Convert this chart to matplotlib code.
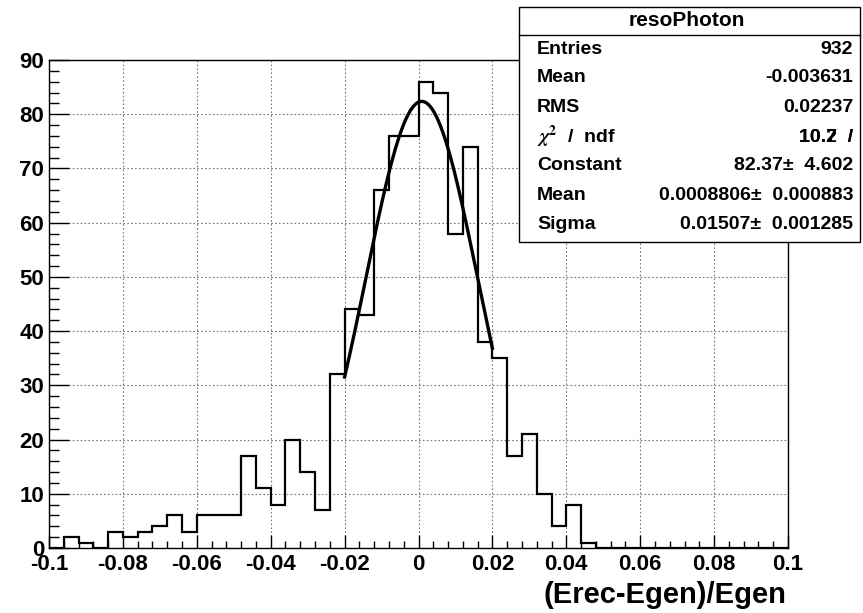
import matplotlib
matplotlib.use("Agg")
import matplotlib.pyplot as plt
import numpy as np
from matplotlib.ticker import MultipleLocator, FuncFormatter
from matplotlib.patches import Rectangle
from matplotlib.lines import Line2D

plt.rcParams['font.family'] = ['Liberation Sans', 'DejaVu Sans']
plt.rcParams['font.weight'] = 'bold'
plt.rcParams['mathtext.fontset'] = 'stix'

# histogram: 50 bins from -0.1 to 0.1
edges = np.linspace(-0.1, 0.1, 51)
counts = [0, 2, 1, 0, 3, 2, 3, 4, 6, 3,
          6, 6, 6, 17, 11, 8, 20, 14, 7, 32,
          44, 43, 66, 76, 76, 86, 84, 58, 74, 38,
          35, 17, 21, 10, 4, 8, 1, 0, 0, 0,
          0, 0, 0, 0, 0, 0, 0, 0, 0, 0]

# gaussian fit parameters from the stats box
fit_const = 82.37
fit_mean = 0.0008806
fit_sigma = 0.01507
fit_range = (-0.02, 0.02)

stats_title = "resoPhoton"
stats_labels = ["Entries", "Mean", "RMS", r"$\chi^{2}$  /  ndf", "Constant", "Mean", "Sigma"]
stats_values = ["932", "-0.003631", "0.02237", "10.2  /", "82.37\u00b1  4.602",
                "0.0008806\u00b1  0.000883", "0.01507\u00b1  0.001285"]

W, H = 863, 613
fig = plt.figure(figsize=(W / 100, H / 100), dpi=100)
ax = fig.add_axes([49 / W, 1 - 548 / H, (788 - 49) / W, (548 - 60) / H])

ax.stairs(counts, edges, color='black', linewidth=1.6)

xf = np.linspace(fit_range[0], fit_range[1], 200)
yf = fit_const * np.exp(-0.5 * ((xf - fit_mean) / fit_sigma) ** 2)
ax.plot(xf, yf, color='black', linewidth=2.4)

ax.set_xlim(-0.1, 0.1)
ax.set_ylim(0, 90)
ax.xaxis.set_major_locator(MultipleLocator(0.02))
ax.xaxis.set_minor_locator(MultipleLocator(0.004))
ax.yaxis.set_major_locator(MultipleLocator(10))
ax.yaxis.set_minor_locator(MultipleLocator(2))
ax.xaxis.set_major_formatter(FuncFormatter(lambda v, p: f"{round(v, 3) + 0:g}"))
ax.grid(True, which='major', color='#777777', linestyle=(0, (1.5, 2)), linewidth=0.8)
ax.set_axisbelow(True)

ax.tick_params(axis='both', which='both', direction='in', width=1, labelsize=16)
ax.tick_params(axis='x', which='major', length=9.5, pad=4.5)
ax.tick_params(axis='x', which='minor', length=5)
ax.tick_params(axis='y', which='major', length=14.5, pad=3.5)
ax.tick_params(axis='y', which='minor', length=7.5)
for lab in ax.get_xticklabels() + ax.get_yticklabels():
    lab.set_fontweight('bold')
for s in ax.spines.values():
    s.set_linewidth(1.0)

fig.text(786 / W, 1 - 595 / H, "(Erec-Egen)/Egen", ha='right', va='center',
         fontsize=21, fontweight='bold')

# stats box
bx0, bx1, by0, by1 = 519, 860, 7, 242
fig.add_artist(Rectangle((bx0 / W, 1 - by1 / H), (bx1 - bx0) / W, (by1 - by0) / H,
                         transform=fig.transFigure, facecolor='white',
                         edgecolor='black', linewidth=1.0, zorder=5))
fig.add_artist(Line2D([bx0 / W, bx1 / W], [1 - 35 / H, 1 - 35 / H],
                      transform=fig.transFigure, color='black', linewidth=1.0, zorder=6))
fig.text(687 / W, 1 - 21 / H, stats_title, ha='center', va='center',
         fontsize=15, fontweight='bold', zorder=7)
row_y = [49, 78, 108, 137, 166, 195, 224]
for yy, lab, val in zip(row_y, stats_labels, stats_values):
    fig.text(537 / W, 1 - yy / H, lab, ha='left', va='center', fontsize=14,
             fontweight='bold', zorder=7)
    fig.text(853 / W, 1 - yy / H, val, ha='right', va='center', fontsize=14,
             fontweight='bold', zorder=7)
    if val == "10.2  /":
        # the reference shows a second digit printed over the last one
        fig.text(853 / W, 1 - yy / H, "10.7  /", ha='right', va='center', fontsize=14,
                 fontweight='bold', zorder=7)

fig.savefig("out.png", dpi=100)
